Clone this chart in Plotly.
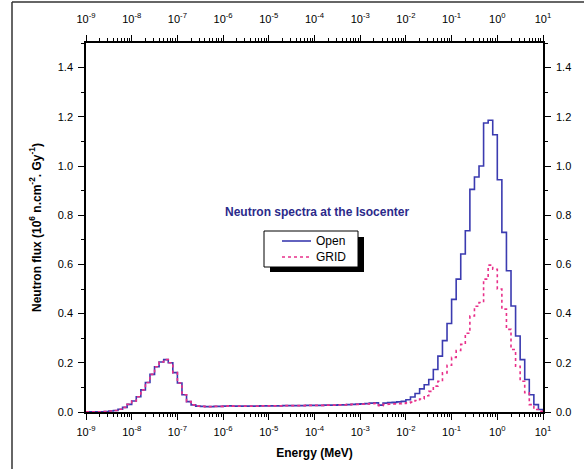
import numpy as np
import plotly.graph_objects as go

# Energy bins: 10 equal log-width bins per decade, 1e-9 .. 1e1 MeV
bin_edges_mev = np.logspace(-9, 1, 101)

open_flux = [
    0.0005, 0.0005, 0.001, 0.001, 0.002, 0.004, 0.006, 0.011, 0.019, 0.031,
    0.045, 0.062, 0.090, 0.120, 0.153, 0.184, 0.203, 0.213, 0.200, 0.160,
    0.118, 0.070, 0.042, 0.029, 0.024, 0.023, 0.022, 0.022, 0.023, 0.023,
    0.024, 0.025, 0.024, 0.024, 0.024, 0.024, 0.024, 0.024, 0.025, 0.025,
    0.025, 0.025, 0.025, 0.026, 0.026, 0.026, 0.026, 0.026, 0.027, 0.027,
    0.027, 0.027, 0.028, 0.028, 0.028, 0.029, 0.029, 0.030, 0.031, 0.032,
    0.033, 0.034, 0.036, 0.037, 0.028, 0.036, 0.038, 0.039, 0.041, 0.043,
    0.050, 0.061, 0.075, 0.094, 0.111, 0.132, 0.173, 0.227, 0.290, 0.360,
    0.458, 0.540, 0.642, 0.737, 0.905, 0.955, 1.000, 1.175, 1.186, 1.127,
    0.944, 0.730, 0.574, 0.431, 0.309, 0.213, 0.132, 0.070, 0.030, 0.010,
]

grid_flux = [
    0.0005, 0.0005, 0.001, 0.001, 0.002, 0.004, 0.006, 0.011, 0.019, 0.031,
    0.045, 0.062, 0.090, 0.120, 0.153, 0.184, 0.203, 0.213, 0.200, 0.160,
    0.118, 0.070, 0.042, 0.029, 0.024, 0.023, 0.022, 0.022, 0.023, 0.023,
    0.024, 0.025, 0.024, 0.024, 0.024, 0.024, 0.024, 0.024, 0.025, 0.025,
    0.025, 0.025, 0.025, 0.026, 0.026, 0.026, 0.026, 0.026, 0.027, 0.027,
    0.027, 0.027, 0.028, 0.028, 0.028, 0.029, 0.029, 0.030, 0.031, 0.031,
    0.032, 0.033, 0.034, 0.035, 0.026, 0.031, 0.032, 0.033, 0.034, 0.035,
    0.037, 0.040, 0.047, 0.053, 0.066, 0.084, 0.105, 0.125, 0.159, 0.190,
    0.222, 0.250, 0.275, 0.320, 0.390, 0.430, 0.445, 0.540, 0.597, 0.580,
    0.500, 0.418, 0.336, 0.254, 0.186, 0.125, 0.078, 0.030, 0.010, 0.003,
]

series_names = ["Open", "GRID"]

x_tick_vals = [1e-9, 1e-8, 1e-7, 1e-6, 1e-5, 1e-4, 1e-3, 1e-2, 1e-1, 1e0, 1e1]
x_tick_text = ["10<sup>-9</sup>", "10<sup>-8</sup>", "10<sup>-7</sup>", "10<sup>-6</sup>",
               "10<sup>-5</sup>", "10<sup>-4</sup>", "10<sup>-3</sup>", "10<sup>-2</sup>",
               "10<sup>-1</sup>", "10<sup>0</sup>", "10<sup>1</sup>"]
x_minor_vals = [k * d for d in x_tick_vals[:-1] for k in range(2, 10)]

BLUE = "#3b3bb0"
PINK = "#e8308a"
NAVY = "#2b2a8a"
FONT = "Liberation Sans, Arial, sans-serif"

W, H = 584, 469
ML, MR, MT, MB = 86, 41, 43, 57
PW, PH = W - ML - MR, H - MT - MB


def px(xp):
    return (xp - ML) / PW


def py(yp):
    return (H - MB - yp) / PH


def step_xy(vals):
    xs = list(bin_edges_mev[:-1]) + [bin_edges_mev[-1]]
    ys = list(vals) + [0.0]
    return xs, ys


fig = go.Figure()
ox, oy = step_xy(open_flux)
gx, gy = step_xy(grid_flux)
fig.add_trace(go.Scatter(x=ox, y=oy, mode="lines", name=series_names[0], line_shape="hv",
                         line=dict(color=BLUE, width=1.6), showlegend=False))
fig.add_trace(go.Scatter(x=gx, y=gy, mode="lines", name=series_names[1], line_shape="hv",
                         line=dict(color=PINK, width=1.6, dash="dot"), showlegend=False))
# helper trace for the mirrored top/right axes
fig.add_trace(go.Scatter(x=[1e-9], y=[0], xaxis="x2", yaxis="y2", mode="markers",
                         marker=dict(opacity=0), showlegend=False, hoverinfo="skip"))

common_x = dict(type="log", range=[-9, 1], tickmode="array", tickvals=x_tick_vals,
                ticktext=x_tick_text, ticks="outside", ticklen=6, tickwidth=1.3,
                tickcolor="black", showline=True, linecolor="black", linewidth=1.6,
                showgrid=False, zeroline=False, automargin=False,
                tickfont=dict(family=FONT, size=11, color="black"),
                minor=dict(tickmode="array", tickvals=x_minor_vals, ticks="outside",
                           ticklen=3, tickwidth=1, tickcolor="black", showgrid=False))
common_y = dict(range=[0, 1.5], tickmode="linear", tick0=0, dtick=0.2, tickformat=".1f",
                ticks="outside", ticklen=6, tickwidth=1.3, tickcolor="black",
                showline=True, linecolor="black", linewidth=1.6, showgrid=False,
                zeroline=False, automargin=False, ticklabelstandoff=3,
                tickfont=dict(family=FONT, size=11, color="black"),
                minor=dict(dtick=0.1, ticks="outside", ticklen=3, tickwidth=1,
                           tickcolor="black", showgrid=False))

# legend drawn as a framed box with drop shadow, as in the reference
legend_shapes = [
    dict(type="rect", xref="paper", yref="paper", x0=px(270), x1=px(364), y0=py(272), y1=py(237),
         fillcolor="black", line=dict(width=0), layer="above"),
    dict(type="rect", xref="paper", yref="paper", x0=px(264), x1=px(358), y0=py(267), y1=py(231),
         fillcolor="white", line=dict(color="black", width=1), layer="above"),
    dict(type="line", xref="paper", yref="paper", x0=px(282), x1=px(311), y0=py(241), y1=py(241),
         line=dict(color=BLUE, width=1.6), layer="above"),
    dict(type="line", xref="paper", yref="paper", x0=px(282), x1=px(311), y0=py(257), y1=py(257),
         line=dict(color=PINK, width=1.6, dash="dot"), layer="above"),
]
legend_texts = [
    dict(text=series_names[0], x=px(314), y=py(241), xref="paper", yref="paper",
         xanchor="left", yanchor="middle", showarrow=False,
         font=dict(family=FONT, size=12, color="black")),
    dict(text=series_names[1], x=px(314), y=py(257), xref="paper", yref="paper",
         xanchor="left", yanchor="middle", showarrow=False,
         font=dict(family=FONT, size=12, color="black")),
]

fig.update_layout(
    width=W, height=H,
    margin=dict(l=ML, r=MR, t=MT, b=MB),
    paper_bgcolor="white", plot_bgcolor="white",
    font=dict(family=FONT, size=11, color="black"),
    xaxis=dict(**common_x, ticklabelstandoff=3,
               title=dict(text="<b>Energy (MeV)</b>", standoff=12,
                          font=dict(family=FONT, size=12))),
    xaxis2=dict(**common_x, overlaying="x", side="top", ticklabelstandoff=8),
    yaxis=dict(**common_y, title=dict(
        text="<b>Neutron flux (10<sup>6</sup> n.cm<sup>-2</sup>. Gy<sup>-1</sup>)</b>",
        standoff=14, font=dict(family=FONT, size=12))),
    yaxis2=dict(**common_y, overlaying="y", side="right"),
    showlegend=False,
    annotations=[dict(text="<b>Neutron spectra at the Isocenter</b>", x=px(317), y=py(212),
                      xref="paper", yref="paper", showarrow=False,
                      font=dict(family=FONT, size=12, color=NAVY))] + legend_texts,
    shapes=legend_shapes + [
        # outer figure frame (left and top edges)
        dict(type="line", xref="paper", yref="paper", x0=px(12), x1=px(12), y0=py(480), y1=py(2),
             line=dict(color="#333333", width=1.5)),
        dict(type="line", xref="paper", yref="paper", x0=px(12), x1=px(600), y0=py(2), y1=py(2),
             line=dict(color="#333333", width=1.5)),
    ],
)

fig.write_html("out.html", config={"displayModeBar": False},
               post_script="document.body.style.margin='0px';")
